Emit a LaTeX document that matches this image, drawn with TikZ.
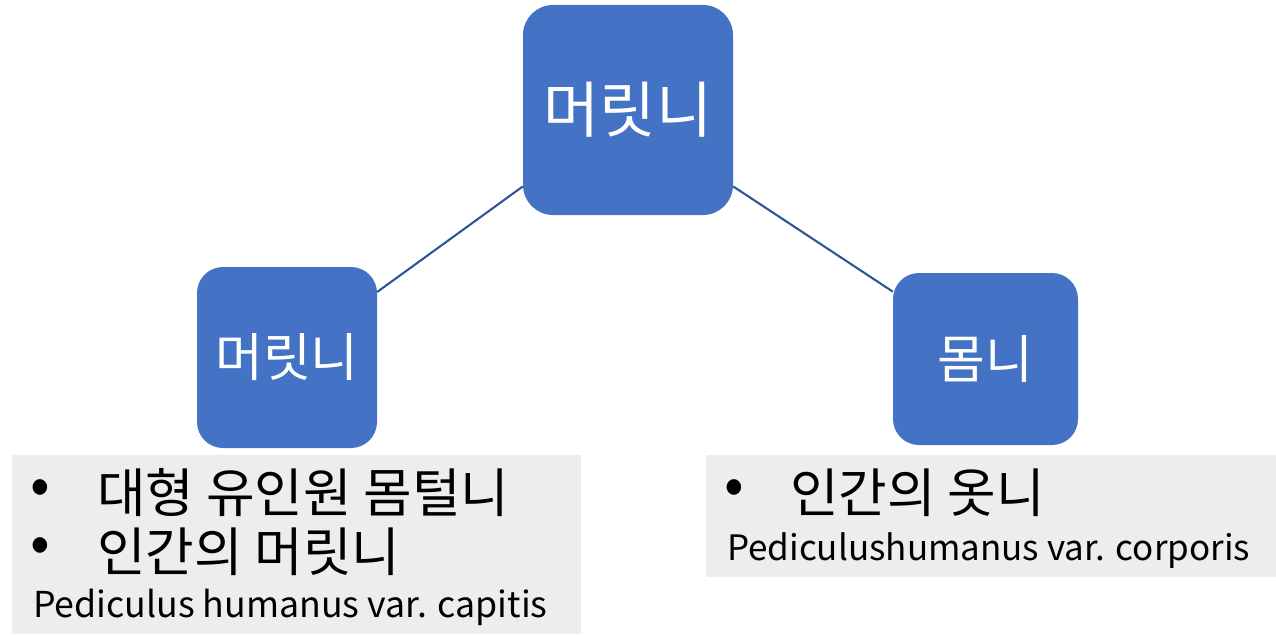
\documentclass[tikz,border=0pt]{standalone}
\usepackage{fontspec}
\setmainfont{Noto Sans CJK KR}
\definecolor{nodeblue}{HTML}{4472C4}
\definecolor{linkblue}{HTML}{2F5597}
\definecolor{boxgray}{HTML}{EDEDED}
\begin{document}
\begin{tikzpicture}[x=1pt,y=-1pt,
  topic/.style={fill=nodeblue,draw=none,rounded corners=#1,text=white,inner sep=0pt},
  link/.style={draw=linkblue,line width=2.1pt},
  infobox/.style={fill=boxgray,draw=none,inner sep=0pt,anchor=north west},
  txt/.style={anchor=base west,inner sep=0pt,text=black},
  bul/.style={anchor=center,inner sep=0pt,text=black,font=\fontsize{58}{58}\selectfont}]
\useasboundingbox (0,0) rectangle (1276,634);
\node[topic=30pt,minimum width=210pt,minimum height=210pt,font=\fontsize{61}{64}\selectfont] (root) at (628,110) {머릿니};
\node[topic=26pt,minimum width=180pt,minimum height=181pt,font=\fontsize{52}{56}\selectfont] (head) at (287,357.5) {머릿니};
\node[topic=26pt,minimum width=185pt,minimum height=172pt,font=\fontsize{52}{56}\selectfont] (body) at (985.5,359) {몸니};
\draw[link] (root.216.6) -- (head.36.9);
\draw[link] (root.324.5) -- (body.144.1);
\node[infobox,minimum width=569pt,minimum height=179pt] (lbox) at (12,455) {};
\node[infobox,minimum width=570pt,minimum height=122pt] (rbox) at (706,455) {};
\node[bul] (lb1) at (40,492) {•};
\node[txt,font=\fontsize{52.8}{60}\selectfont] (l1) at (97,512) {대형 유인원 몸털니};
\node[bul] (lb2) at (40,550) {•};
\node[txt,font=\fontsize{52.8}{60}\selectfont] (l2) at (97,571) {인간의 머릿니};
\node[txt,font=\fontsize{35.7}{40}\selectfont] (l3) at (33,617) {Pediculus humanus var. capitis};
\node[bul] (rb1) at (734,492) {•};
\node[txt,font=\fontsize{52.8}{60}\selectfont] (r1) at (790,512) {인간의 옷니};
\node[txt,font=\fontsize{35}{40}\selectfont] (r2) at (727,560) {Pediculushumanus var. corporis};
\end{tikzpicture}
\end{document}
